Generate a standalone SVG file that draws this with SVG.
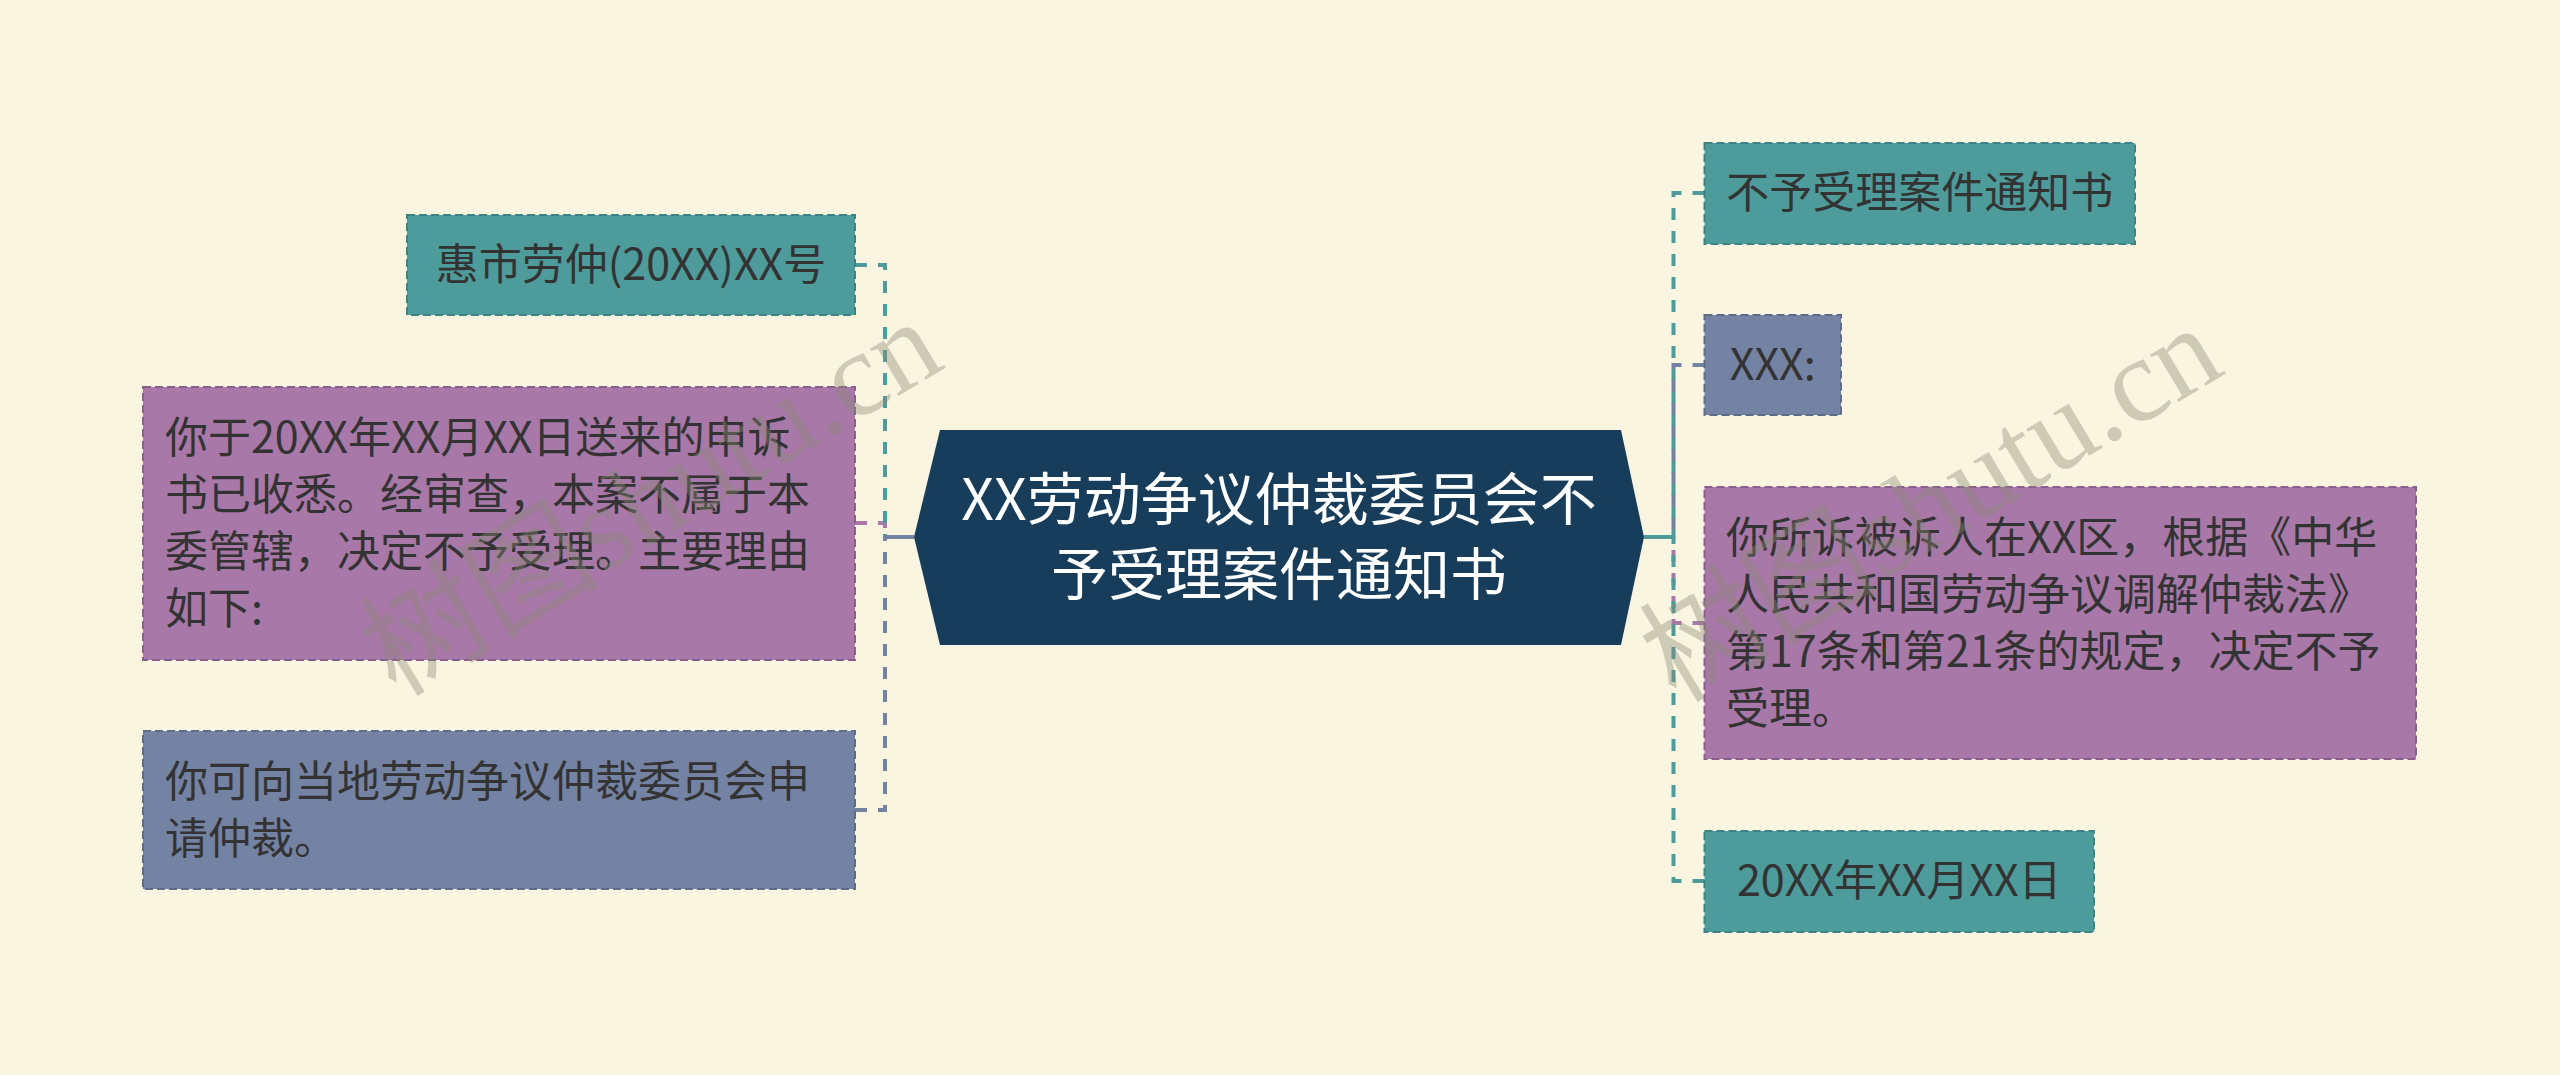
<svg xmlns="http://www.w3.org/2000/svg" width="2560" height="1075" viewBox="0 0 2560 1075">
<style>
.bg{fill:#faf5e0}
.t{font-family:"Noto Sans CJK SC","Liberation Sans",sans-serif;font-size:43px;fill:#333333}
.ct{font-family:"Noto Sans CJK SC","Liberation Sans",sans-serif;font-size:57px;fill:#ffffff}
.teal{fill:#4d9b9b;stroke:#3c8484;stroke-width:2;stroke-dasharray:8 4}
.purple{fill:#a878a8;stroke:#8c5e8c;stroke-width:2;stroke-dasharray:8 4}
.slate{fill:#7483a3;stroke:#5e6c8a;stroke-width:2;stroke-dasharray:8 4}
.l{fill:none;stroke-width:4;stroke-dasharray:12 11}
.lt{stroke:#4d9b9b}
.lp{stroke:#a878a8}
.ls{stroke:#7483a3}
.solid{fill:none;stroke-width:4}
.wm{font-family:"Liberation Serif","Noto Sans CJK SC",serif;font-size:120px;fill:#8a8a78;fill-opacity:0.4}
</style>
<rect class="bg" x="0" y="0" width="2560" height="1075"/>
<g id="connectors">
<path class="l lp" d="M855 523 H885 V537"/>
<path class="l lt" d="M855 265 H885 V537"/>
<path class="l ls" d="M855 810 H885 V537"/>
<path class="solid ls" d="M914 537 H885"/>
<path class="l lt" d="M1704.5 193 H1673.5 V537"/>
<path class="l ls" d="M1704.5 365 H1673.5 V537"/>
<path class="l lp" d="M1704.5 623 H1673.5 V537"/>
<path class="l lt" d="M1704.5 881 H1673.5 V537"/>
<path class="solid lt" d="M1644 537 H1673.5"/>
</g>
<g id="center">
<polygon points="940,430 1621,430 1644,537 1621,645 940,645 914,537" fill="#173d5b"/>
<text class="ct" x="1279" y="520" text-anchor="middle">XX劳动争议仲裁委员会不</text>
<text class="ct" x="1279" y="595" text-anchor="middle">予受理案件通知书</text>
</g>
<g id="node-l1">
<rect class="teal" x="407" y="215" width="448" height="100"/>
<text class="t" x="631" y="280" text-anchor="middle">惠市劳仲(20XX)XX号</text>
</g>
<g id="node-l2">
<rect class="purple" x="143" y="387" width="712" height="273"/>
<text class="t" x="165" y="453">你于20XX年XX月XX日送来的申诉</text>
<text class="t" x="165" y="510">书已收悉。经审查，本案不属于本</text>
<text class="t" x="165" y="567">委管辖，决定不予受理。主要理由</text>
<text class="t" x="165" y="624">如下:</text>
</g>
<g id="node-l3">
<rect class="slate" x="143" y="731" width="712" height="158"/>
<text class="t" x="165" y="797">你可向当地劳动争议仲裁委员会申</text>
<text class="t" x="165" y="854">请仲裁。</text>
</g>
<g id="node-r1">
<rect class="teal" x="1704.5" y="143" width="430.5" height="101"/>
<text class="t" x="1919.75" y="208" text-anchor="middle">不予受理案件通知书</text>
</g>
<g id="node-r2">
<rect class="slate" x="1704.5" y="315" width="136.5" height="100"/>
<text class="t" x="1772.75" y="380" text-anchor="middle">XXX:</text>
</g>
<g id="node-r3">
<rect class="purple" x="1704.5" y="487" width="711.5" height="272"/>
<text class="t" x="1726" y="553">你所诉被诉人在XX区，根据《中华</text>
<text class="t" x="1726" y="610">人民共和国劳动争议调解仲裁法》</text>
<text class="t" x="1726" y="667">第17条和第21条的规定，决定不予</text>
<text class="t" x="1726" y="724">受理。</text>
</g>
<g id="node-r4">
<rect class="teal" x="1704.5" y="831" width="389.5" height="101"/>
<text class="t" x="1899.25" y="896" text-anchor="middle">20XX年XX月XX日</text>
</g>
<g id="watermarks">
<text class="wm" x="396" y="698" transform="rotate(-31 396 698)">树图shutu.cn</text>
<text class="wm" x="1676" y="704" transform="rotate(-31 1676 704)">树图shutu.cn</text>
</g>
</svg>
